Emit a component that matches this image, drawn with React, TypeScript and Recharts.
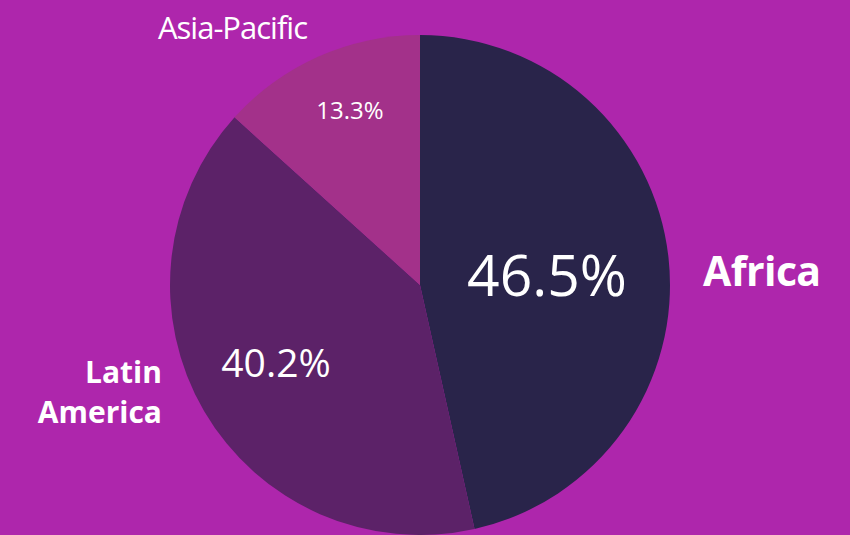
import React from "react";
import { PieChart, Pie, Cell } from "recharts";

const regions = ["Africa", "Latin America", "Asia-Pacific"];
const shares = [46.5, 40.2, 13.3];
const sliceColors = ["#29244A", "#5C2268", "#A3318A"];

const data = regions.map((name, i) => ({ name, value: shares[i] }));

// label placement, in units of the pie radius from its centre
const labelLayout = [
  { name: { x: 1.132, y: 0.004, anchor: "start", size: 41, weight: 700, ls: -0.6 }, pct: { x: 0.508, y: 0.044, size: 57 } },
  { name: { x: -1.032, y: 0.392, anchor: "end", size: 30, weight: 700, ls: 0 }, pct: { x: -0.576, y: 0.368, size: 39 } },
  { name: { x: -0.75, y: -0.984, anchor: "middle", size: 31, weight: 400, ls: -1 }, pct: { x: -0.28, y: -0.664, size: 24 } },
];

const FONT = "'Open Sans', sans-serif";

const renderLabel = (props: any) => {
  const { cx, cy, outerRadius, index, value, name } = props;
  const l = labelLayout[index];
  const nx = cx + l.name.x * outerRadius;
  const ny = cy + l.name.y * outerRadius;
  const lines = name === "Latin America" ? ["Latin", "America"] : [name];
  return (
    <g>
      <text
        x={nx}
        y={ny}
        fill="#fff"
        textAnchor={l.name.anchor}
        fontFamily={FONT}
        fontSize={l.name.size}
        fontWeight={l.name.weight}
        letterSpacing={l.name.ls}
      >
        {lines.map((t, i) => (
          <tspan key={t} x={nx} dy={i === 0 ? 0 : 40}>
            {t}
          </tspan>
        ))}
      </text>
      <text
        x={cx + l.pct.x * outerRadius}
        y={cy + l.pct.y * outerRadius}
        fill="#fff"
        textAnchor="middle"
        fontFamily={FONT}
        fontSize={l.pct.size}
      >
        {`${value.toFixed(1)}%`}
      </text>
    </g>
  );
};

export default function App() {
  return (
    <div
      style={{
        position: "fixed",
        left: 0,
        top: 0,
        width: 850,
        height: 535,
        background: "#AE26AC",
        overflow: "hidden",
      }}
    >
      <PieChart width={850} height={535} margin={{ top: 0, right: 0, bottom: 0, left: 0 }}>
        <Pie
          data={data}
          dataKey="value"
          nameKey="name"
          cx={420}
          cy={285}
          outerRadius={250}
          startAngle={90}
          endAngle={-270}
          stroke="none"
          label={renderLabel}
          labelLine={false}
          isAnimationActive={false}
        >
          {data.map((d, i) => (
            <Cell key={d.name} fill={sliceColors[i]} />
          ))}
        </Pie>
      </PieChart>
    </div>
  );
}
